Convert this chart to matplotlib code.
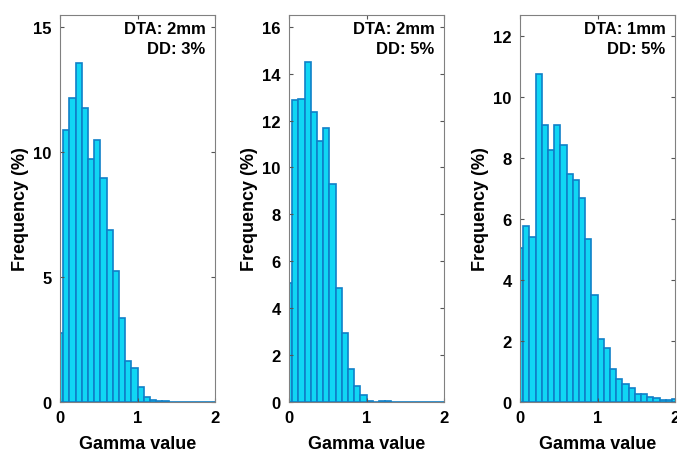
import numpy as np
import matplotlib
matplotlib.use('Agg')
import matplotlib.pyplot as plt

plt.rcParams['font.family'] = ['Liberation Sans', 'DejaVu Sans']
plt.rcParams['font.weight'] = 'bold'

# bin centres of the gamma histogram (0:0.08:2)
bin_centers = np.arange(26) * 0.08

freq_2mm_3 = [2.78, 10.91, 12.18, 13.59, 11.79, 9.75, 10.51, 8.98, 6.89, 5.23,
              3.37, 1.65, 1.37, 0.60, 0.22, 0.08, 0.04, 0.03, 0.02, 0.02,
              0.02, 0.02, 0.02, 0.02, 0.02, 0.02]
freq_2mm_5 = [5.06, 12.86, 12.92, 14.48, 12.35, 11.12, 11.67, 9.31, 4.87, 2.95,
              1.39, 0.68, 0.30, 0.06, 0.02, 0.04, 0.04, 0.02, 0.02, 0.02,
              0.02, 0.02, 0.02, 0.02, 0.02, 0.02]
freq_1mm_5 = [5.06, 5.79, 5.40, 10.76, 9.10, 8.27, 9.10, 8.44, 7.48, 7.28,
              6.71, 5.35, 3.51, 2.08, 1.77, 1.08, 0.75, 0.60, 0.46, 0.27,
              0.27, 0.17, 0.12, 0.07, 0.05, 0.10]

panel_labels = ['DTA: 2mm\nDD: 3%', 'DTA: 2mm\nDD: 5%', 'DTA: 1mm\nDD: 5%']
y_limits = [15.5, 16.5, 12.7]
y_ticks = [[0, 5, 10, 15], list(range(0, 17, 2)), list(range(0, 13, 2))]

fig = plt.figure(figsize=(6.77, 4.52), dpi=100)
lefts = [60 / 677, 289 / 677, 520 / 677]
w, b, h = 155 / 677, 1 - 403 / 452, 387 / 452

for i, data in enumerate([freq_2mm_3, freq_2mm_5, freq_1mm_5]):
    ax = fig.add_axes([lefts[i], b, w, h])
    ax.bar(bin_centers, data, width=0.08, color='#10D6F4', edgecolor='#0F80C8',
           linewidth=1.2)
    ax.set_xlim(0, 2)
    ax.set_ylim(0, y_limits[i])
    ax.set_xticks([0, 1, 2])
    ax.set_yticks(y_ticks[i])
    ax.tick_params(direction='in', top=True, right=True, labelsize=12,
                   length=3, color='#555555', pad=6)
    for sp in ax.spines.values():
        sp.set_color('#808080')
    ax.set_xlabel('Gamma value', fontsize=13, fontweight='bold', labelpad=7)
    ax.set_ylabel('Frequency (%)', fontsize=13, fontweight='bold', labelpad=3)
    ax.text(0.94, 0.985, panel_labels[i], transform=ax.transAxes, ha='right',
            va='top', fontsize=12, fontweight='bold', linespacing=1.45)

fig.savefig('out.png', dpi=100)
